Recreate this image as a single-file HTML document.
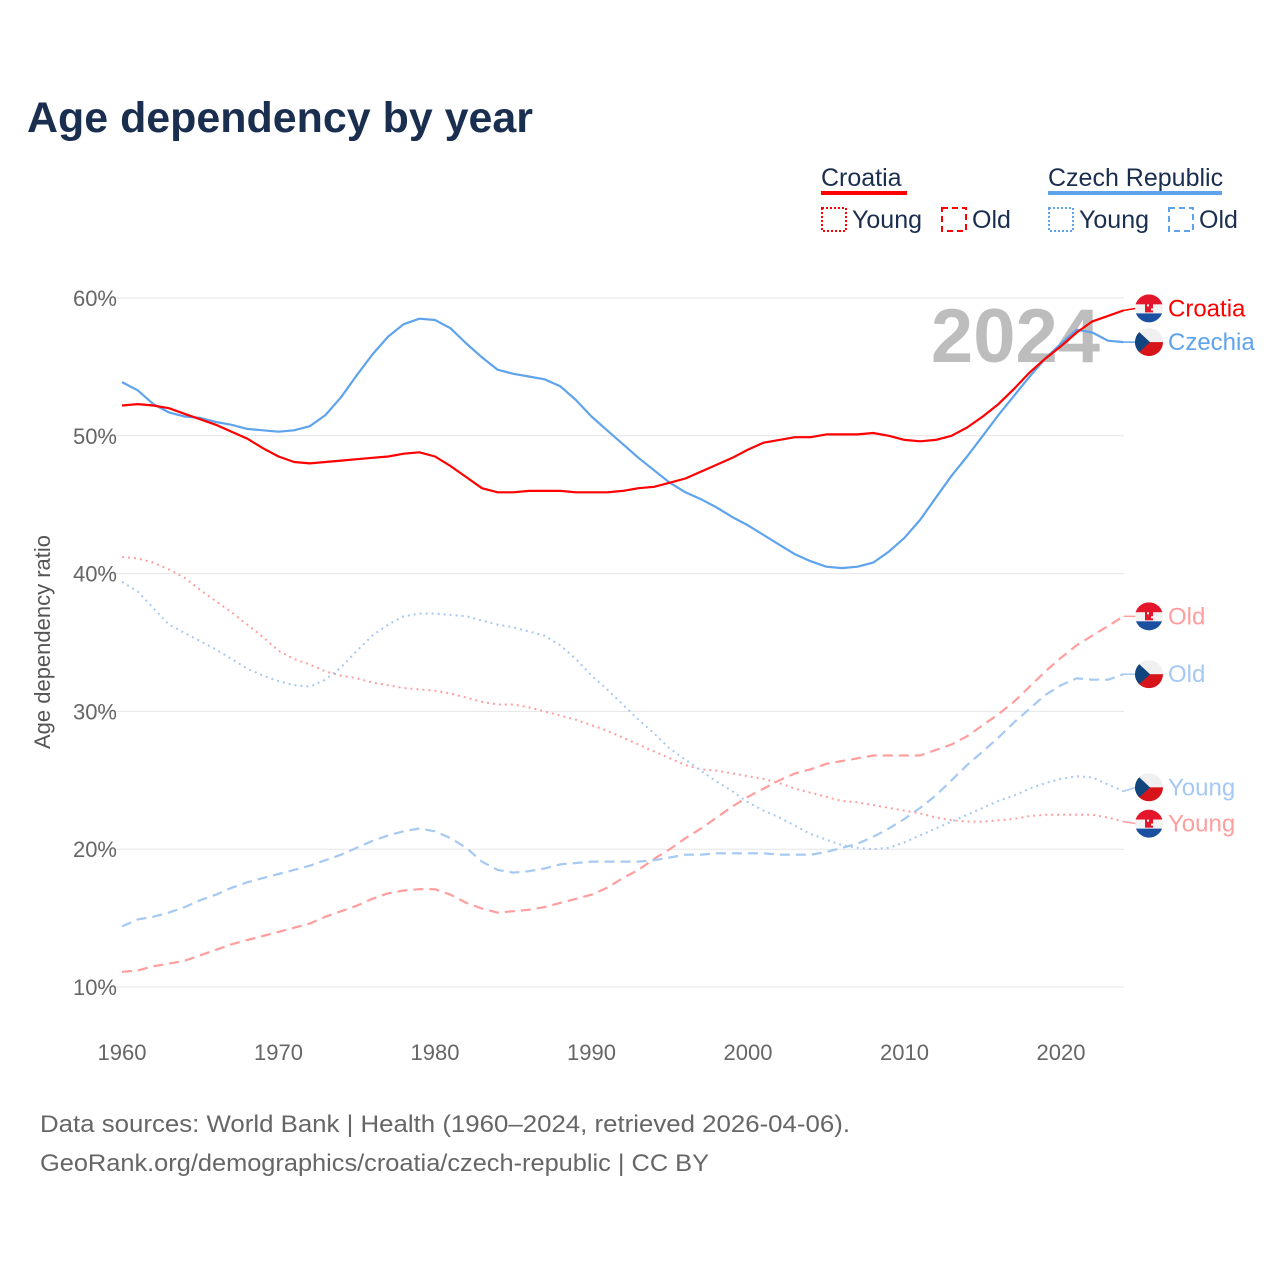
<!DOCTYPE html>
<html><head><meta charset="utf-8">
<style>
body{margin:0;background:#fff;font-family:"Liberation Sans",sans-serif;}
svg text{font-family:"Liberation Sans",sans-serif;}
</style></head>
<body>
<svg id="chart" width="1280" height="1280" viewBox="0 0 1280 1280">
<text x="27" y="132" font-size="43" font-weight="bold" fill="#1a2e4f" textLength="506" lengthAdjust="spacingAndGlyphs">Age dependency by year</text>
<g>
<text x="821" y="186" font-size="25" fill="#1a2e4f">Croatia</text>
<rect x="821" y="191" width="86" height="4" fill="#ff0000"/>
<rect x="822" y="208" width="24" height="23" fill="none" stroke="#ff0000" stroke-width="2" stroke-dasharray="2,2"/>
<text x="852" y="228" font-size="25" fill="#1a2e4f">Young</text>
<rect x="942" y="208" width="24" height="23" fill="none" stroke="#ff0000" stroke-width="2" stroke-dasharray="6,4"/>
<text x="972" y="228" font-size="25" fill="#1a2e4f">Old</text>
<text x="1048" y="186" font-size="25" fill="#1a2e4f">Czech Republic</text>
<rect x="1048" y="191" width="174" height="4" fill="#5ea3ec"/>
<rect x="1049" y="208" width="24" height="23" fill="none" stroke="#5ea3ec" stroke-width="2" stroke-dasharray="2,2"/>
<text x="1079" y="228" font-size="25" fill="#1a2e4f">Young</text>
<rect x="1169" y="208" width="24" height="23" fill="none" stroke="#5ea3ec" stroke-width="2" stroke-dasharray="6,4"/>
<text x="1199" y="228" font-size="25" fill="#1a2e4f">Old</text>
</g>
<text x="1100" y="362" font-size="76" font-weight="bold" fill="#bdbdbd" text-anchor="end">2024</text>
<text transform="translate(50,642) rotate(-90)" font-size="22" fill="#555" text-anchor="middle">Age dependency ratio</text>
<g id="grid"></g><g id="series"></g><g id="labels"></g>
<text x="40" y="1132" font-size="24" fill="#666" textLength="810" lengthAdjust="spacingAndGlyphs">Data sources: World Bank | Health (1960–2024, retrieved 2026-04-06).</text>
<text x="40" y="1171" font-size="24" fill="#666" textLength="669" lengthAdjust="spacingAndGlyphs">GeoRank.org/demographics/croatia/czech-republic | CC BY</text>
</svg>
<script>
const startYear = 1960;
const yTicks = [10,20,30,40,50,60];
const yTickLabels = ["10%","20%","30%","40%","50%","60%"];
const xTicks = [1960,1970,1980,1990,2000,2010,2020];
const croTotal = [52.2,52.3,52.2,52.0,51.6,51.2,50.8,50.3,49.8,49.1,48.5,48.1,48.0,48.1,48.2,48.3,48.4,48.5,48.7,48.8,48.5,47.8,47.0,46.2,45.9,45.9,46.0,46.0,46.0,45.9,45.9,45.9,46.0,46.2,46.3,46.6,46.9,47.4,47.9,48.4,49.0,49.5,49.7,49.9,49.9,50.1,50.1,50.1,50.2,50.0,49.7,49.6,49.7,50.0,50.6,51.4,52.3,53.4,54.6,55.6,56.5,57.5,58.3,58.7,59.1];
const czeTotal = [53.9,53.3,52.3,51.7,51.4,51.3,51.0,50.8,50.5,50.4,50.3,50.4,50.7,51.5,52.8,54.4,55.9,57.2,58.1,58.5,58.4,57.8,56.7,55.7,54.8,54.5,54.3,54.1,53.6,52.6,51.4,50.4,49.4,48.4,47.5,46.6,45.9,45.4,44.8,44.1,43.5,42.8,42.1,41.4,40.9,40.5,40.4,40.5,40.8,41.6,42.6,43.9,45.5,47.1,48.5,50.0,51.5,52.9,54.3,55.6,56.7,57.7,57.5,56.9,56.8];
const croYoung = [41.2,41.1,40.8,40.3,39.7,38.8,38.0,37.2,36.3,35.4,34.4,33.8,33.4,32.9,32.6,32.4,32.1,31.9,31.7,31.6,31.5,31.3,31.0,30.7,30.5,30.5,30.3,30.0,29.7,29.4,29.0,28.6,28.1,27.6,27.1,26.6,26.1,25.8,25.7,25.5,25.3,25.1,24.8,24.4,24.1,23.8,23.5,23.4,23.2,23.0,22.8,22.6,22.3,22.1,22.0,22.0,22.1,22.2,22.4,22.5,22.5,22.5,22.5,22.3,22.0];
const czeYoung = [39.4,38.7,37.5,36.3,35.7,35.1,34.5,33.8,33.1,32.6,32.2,31.9,31.8,32.3,33.2,34.4,35.5,36.3,36.9,37.1,37.1,37.0,36.9,36.6,36.3,36.1,35.8,35.5,34.8,33.8,32.6,31.6,30.5,29.4,28.4,27.3,26.5,25.7,24.9,24.2,23.4,22.8,22.3,21.7,21.1,20.7,20.3,20.1,20.0,20.1,20.5,21.0,21.5,22.0,22.5,23.0,23.5,23.9,24.4,24.8,25.1,25.3,25.2,24.7,24.2];
const croOld = [11.1,11.2,11.5,11.7,11.9,12.3,12.7,13.1,13.4,13.7,14.0,14.3,14.6,15.1,15.5,15.9,16.4,16.8,17.0,17.1,17.1,16.7,16.1,15.7,15.4,15.5,15.6,15.8,16.1,16.4,16.7,17.2,17.9,18.5,19.3,20.0,20.8,21.5,22.3,23.1,23.8,24.4,25.0,25.5,25.8,26.2,26.4,26.6,26.8,26.8,26.8,26.8,27.2,27.6,28.2,29.0,29.8,30.7,31.8,32.9,33.9,34.8,35.5,36.2,36.9];
const czeOld = [14.4,14.9,15.1,15.4,15.8,16.3,16.7,17.2,17.6,17.9,18.2,18.5,18.8,19.2,19.6,20.1,20.6,21.0,21.3,21.5,21.3,20.8,20.1,19.1,18.5,18.3,18.4,18.6,18.9,19.0,19.1,19.1,19.1,19.1,19.2,19.4,19.6,19.6,19.7,19.7,19.7,19.7,19.6,19.6,19.6,19.8,20.1,20.4,20.9,21.5,22.2,23.0,23.9,25.0,26.1,27.1,28.1,29.2,30.2,31.2,31.9,32.4,32.3,32.3,32.7];

const NS="http://www.w3.org/2000/svg";
const x = yr => 122 + (yr-1960)*(1061-122)/60;
const y = v => 987 - (v-10)*(987-298)/50;
function mk(tag, attrs, parent){const e=document.createElementNS(NS,tag);for(const k in attrs)e.setAttribute(k,attrs[k]);parent.appendChild(e);return e;}
const grid=document.getElementById('grid'), ser=document.getElementById('series'), lab=document.getElementById('labels');
yTicks.forEach((t,i)=>{
  const l=mk('line',{x1:96,x2:1124,y1:y(t),y2:y(t),stroke:'#e6e6e6','stroke-width':1},grid);
  
  
  const tx=mk('text',{x:117,y:y(t)+8,'font-size':22,fill:'#666','text-anchor':'end'},grid);
  tx.textContent=yTickLabels[i];
  
  
});
xTicks.forEach(t=>{
  const tx=mk('text',{x:x(t),y:1060,'font-size':22,fill:'#666','text-anchor':'middle'},grid);
  tx.textContent=t;
  
  
});
const series=[
 {d:croOld,c:'#ff9e9e',dash:'10,6',n:'croatia-old',label:'Old',flag:'hr'},
 {d:czeOld,c:'#a6c9f2',dash:'10,6',n:'czech-old',label:'Old',flag:'cz'},
 {d:croYoung,c:'#ff9e9e',dash:'2,4',n:'croatia-young',label:'Young',flag:'hr',off:2},
 {d:czeYoung,c:'#a6c9f2',dash:'2,4',n:'czech-young',label:'Young',flag:'cz',off:-4},
 {d:czeTotal,c:'#5ea3ec',dash:'',n:'czech-total',label:'Czechia',flag:'cz',off:0},
 {d:croTotal,c:'#ff0000',dash:'',n:'croatia-total',label:'Croatia',flag:'hr',off:-2},
];
series.forEach(s=>{
  const pts=s.d.map((v,i)=>x(startYear+i).toFixed(1)+','+y(v).toFixed(1)).join(' ');
  const p=mk('polyline',{points:pts,fill:'none',stroke:s.c,'stroke-width':s.dash==='2,4'?2:2.2,'stroke-dasharray':s.dash,'stroke-linejoin':'round'},ser);
  
  
  const last=s.d[s.d.length-1], ly=y(last)+(s.off||0), lx=x(startYear+s.d.length-1);
  const g=mk('g',{},lab);
  
  
  mk('line',{x1:lx,x2:1136,y1:y(last),y2:ly,stroke:s.c,'stroke-width':1.5},g);
  const cx=1149, r=14;
  const cid='clip-'+s.n;
  const cp=mk('clipPath',{id:cid},g); mk('circle',{cx:cx,cy:ly,r:r},cp);
  const fg=mk('g',{'clip-path':'url(#'+cid+')'},g);
  if(s.flag==='hr'){
    mk('rect',{x:cx-r,y:ly-r,width:2*r,height:10,fill:'#e4162b'},fg);
    mk('rect',{x:cx-r,y:ly-r+10,width:2*r,height:9,fill:'#f2f2f2'},fg);
    mk('rect',{x:cx-r,y:ly-r+19,width:2*r,height:10,fill:'#1b4fa0'},fg);
    mk('rect',{x:cx-4,y:ly-6,width:8,height:10,fill:'#e4162b'},fg);
    mk('rect',{x:cx-2,y:ly-4,width:2,height:2,fill:'#fff'},fg);
    mk('rect',{x:cx+2,y:ly,width:2,height:2,fill:'#fff'},fg);
  } else {
    mk('rect',{x:cx-r,y:ly-r,width:2*r,height:r,fill:'#f0f0f0'},fg);
    mk('rect',{x:cx-r,y:ly,width:2*r,height:r,fill:'#d7141a'},fg);
    mk('polygon',{points:(cx-r)+','+(ly-r)+' '+(cx+1)+','+ly+' '+(cx-r)+','+(ly+r),fill:'#11457e'},fg);
  }
  const t=mk('text',{x:1168,y:ly+8,'font-size':24,fill:s.c},g);
  t.textContent=s.label;
});
</script>
</body></html>
